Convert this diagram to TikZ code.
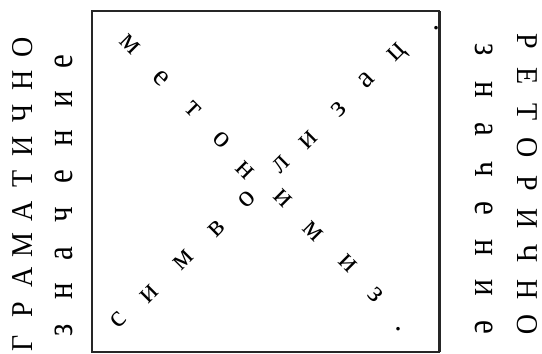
\documentclass[tikz,border=0pt]{standalone}
\usepackage{fontspec}
\setmainfont{Liberation Serif}
\newcommand\capst[1]{\scalebox{1}[1.08]{#1}}
\newcommand\lowst[1]{\scalebox{1}[1.2]{#1}}
\tikzset{
  capL/.style={anchor=base, rotate=90, inner sep=0pt, font=\fontsize{28}{30}\selectfont},
  lowL/.style={anchor=base, rotate=90, inner sep=0pt, font=\fontsize{31}{33}\selectfont},
  capR/.style={anchor=base, rotate=-90, inner sep=0pt, font=\fontsize{28}{30}\selectfont},
  lowR/.style={anchor=base, rotate=-90, inner sep=0pt, font=\fontsize{31}{33}\selectfont},
  diagA/.style={anchor=mid, rotate=-45, inner sep=0pt, font=\fontsize{30}{32}\selectfont},
  diagB/.style={anchor=mid, rotate=45, inner sep=0pt, font=\fontsize{30}{32}\selectfont},
  dotn/.style={anchor=center, inner sep=0pt, font=\fontsize{30}{32}\selectfont},
  frame/.style={line width=2pt, draw=black!85}
}
\begin{document}
\begin{tikzpicture}[x=1pt, y=-1pt]
\useasboundingbox[fill=white] (0,0) rectangle (542,354);
% frame
\draw[frame] (92,11) rectangle (439,352);
\draw[line width=1pt, draw=black!85] (440,11) -- (440,352);
% left column
\foreach \L [count=\i from 0] in {Г,Р,А,М,А,Т,И,Ч,Н,О}
  \node[capL] (gl\i) at (33, {343-32.8*\i}) {\capst{\L}};
\foreach \L [count=\i from 0] in {з,н,а,ч,е,н,и,е}
  \node[lowL] (zl\i) at (72, {330-38.4*\i}) {\lowst{\L}};
% right column
\foreach \L [count=\i from 0] in {Р,Е,Т,О,Р,И,Ч,Н,О}
  \node[capR] (gr\i) at (517, {41+35.5*\i}) {\capst{\L}};
\foreach \L [count=\i from 0] in {з,н,а,ч,е,н,и,е}
  \node[lowR] (zr\i) at (475, {50+39.6*\i}) {\lowst{\L}};
% diagonal 1
\foreach \L/\x/\y [count=\i] in {м/127/48, е/158/82, т/190/113, о/218/143, н/242/174, и/280/202, м/310/235, и/345/267, з/372/298}
  \node[diagA] (da\i) at (\x,\y) {\L};
\node[dotn] (dadot) at (398,329) {.};
% diagonal 2
\foreach \L/\x/\y [count=\i] in {с/122/323, и/153/297, м/187/263, в/220/232, о/250/203, л/284/168, и/312/143, з/342/113, а/370/83, ц/400/55}
  \node[diagB] (db\i) at (\x,\y) {\L};
\node[dotn] (dbdot) at (436,28) {.};
\end{tikzpicture}
\end{document}
